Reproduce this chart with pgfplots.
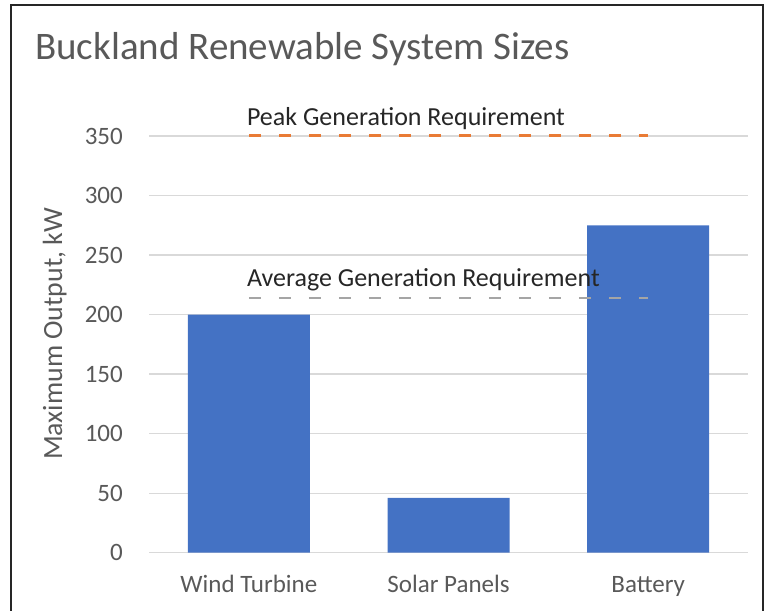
\documentclass[border=0pt]{standalone}
\usepackage{pgfplots}
\pgfplotsset{compat=1.18}
\usepackage{fontspec}
\setmainfont{Carlito}
\definecolor{barblue}{HTML}{4472C4}
\definecolor{peakorange}{HTML}{E97B35}
\definecolor{avggray}{HTML}{A5A5A5}
\definecolor{gridgray}{HTML}{D9D9D9}
\definecolor{txtgray}{HTML}{595959}
\definecolor{lbldark}{HTML}{262626}
\begin{document}
\begin{tikzpicture}[x=1bp,y=1bp]
\path[use as bounding box] (0,0) rectangle (771,611);
\draw[line width=2bp, color=black!85] (11,-3) -- (11,606) -- (763,606) -- (763,-3);
\node[anchor=base west, inner sep=0pt, font=\fontsize{39bp}{46bp}\selectfont, text=txtgray] at (35,551) {Buckland Renewable System Sizes};
\node[rotate=90, anchor=base, inner sep=0pt, font=\fontsize{27.8bp}{33bp}\selectfont, text=txtgray] at (62,277) {Maximum Output, kW};
\begin{axis}[
  at={(149bp,58.3bp)}, anchor=south west,
  scale only axis, width=599bp, height=416.7bp,
  xmin=-0.5, xmax=2.5, ymin=0, ymax=350,
  ytick={0,50,...,350},
  xtick={0,1,2},
  xticklabels={Wind Turbine, Solar Panels, Battery},
  ymajorgrids,
  grid style={line width=1.3bp, color=gridgray},
  axis line style={draw=none},
  major tick length=0pt,
  tick style={draw=none},
  /pgf/number format/assume math mode=true,
  ticklabel style={font=\fontsize{25bp}{30bp}\selectfont, text=txtgray, inner sep=0pt},
  yticklabel style={anchor=east, xshift=-26bp},
  xticklabel style={anchor=base, yshift=-40bp},
  clip=false,
]
\addplot[ybar, bar width=122bp, bar shift=0pt, fill=barblue, draw=none] coordinates {(0,200) (1,46) (2,275)};
\addplot[color=peakorange, line width=3bp, dash pattern=on 12bp off 18bp, line cap=butt] coordinates {(0,350) (2,350)};
\addplot[color=avggray, line width=2.8bp, dash pattern=on 12bp off 18bp, line cap=butt] coordinates {(0,214) (2,214)};
\node[anchor=base west, inner sep=0pt, xshift=-2bp, yshift=10bp, font=\fontsize{26bp}{30bp}\selectfont, text=lbldark] at (axis cs:0,350) {Peak Generation Requirement};
\node[anchor=base west, inner sep=0pt, xshift=-2bp, yshift=11bp, font=\fontsize{26bp}{30bp}\selectfont, text=lbldark] at (axis cs:0,214) {Average Generation Requirement};
\end{axis}
\end{tikzpicture}
\end{document}
